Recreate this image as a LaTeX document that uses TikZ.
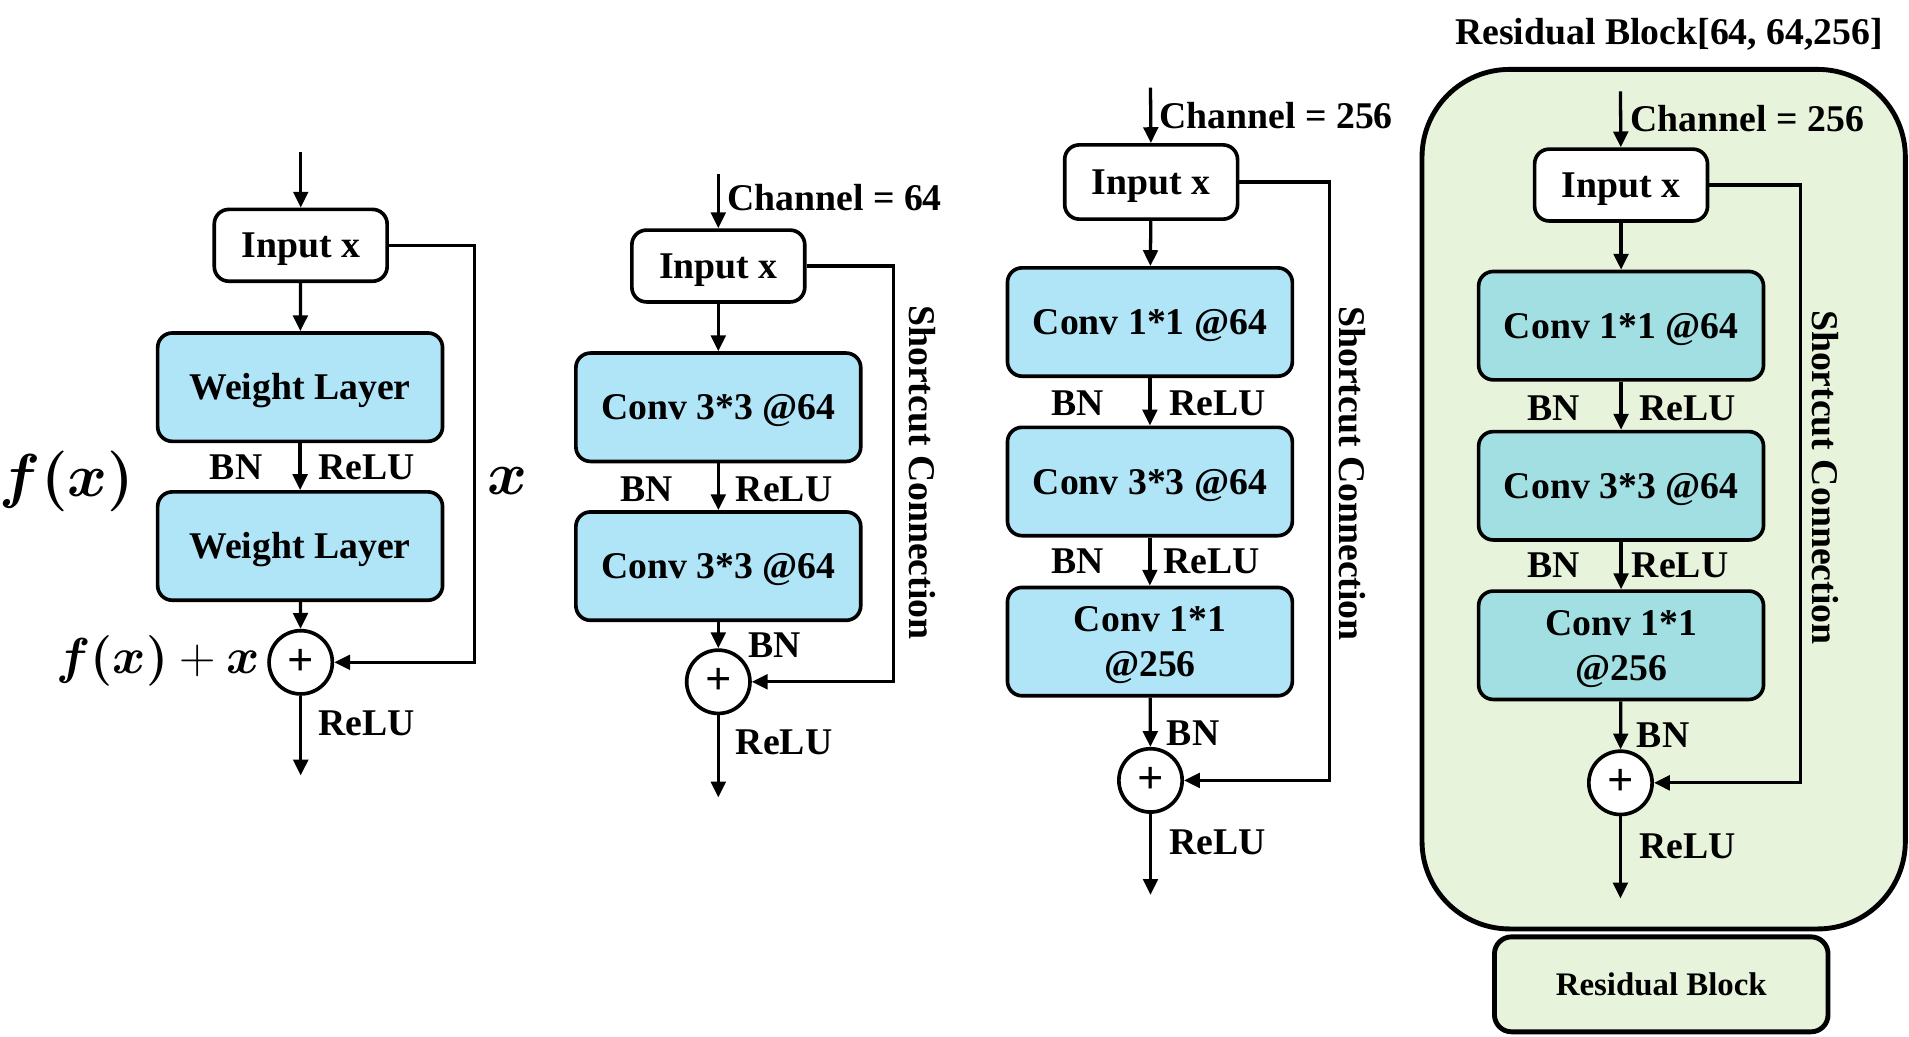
\documentclass[tikz,border=0pt]{standalone}
\usepackage{amsmath}
\usepackage{bm}
\usepackage{fontspec}
\setmainfont{Liberation Serif}
\usetikzlibrary{arrows.meta}
\definecolor{layerblue}{HTML}{B0E5F7}
\definecolor{layerteal}{HTML}{A2DFE2}
\definecolor{blockgreen}{HTML}{E7F4DB}
\begin{document}
\begin{tikzpicture}[x=0.5pt,y=-0.5pt,
  font=\fontsize{15.5}{18.5}\selectfont\bfseries,
  arr/.style={line width=1.35pt,-{Triangle[length=6.5pt,width=6pt]}},
  capc/.style={text height=10.4pt,text depth=0pt},
  inbox/.style={draw,line width=1.5pt,rounded corners=6pt,fill=white,capc,
    minimum width=71pt,minimum height=29.5pt,inner sep=0pt},
  layer/.style={draw,line width=1.5pt,rounded corners=6pt,fill=layerblue,
    minimum width=117pt,minimum height=44.5pt,inner sep=0pt,align=center},
  tlayer/.style={layer,fill=layerteal},
  twoline/.style={text depth=-2pt},
  sum/.style={draw,circle,line width=1.5pt,fill=white,minimum size=26pt,
    inner sep=0pt,font=\fontsize{19}{19}\selectfont\bfseries},
  lbl/.style={inner sep=0pt},
  side/.style={inner sep=0pt,rotate=-90}]
\useasboundingbox (0,0) rectangle (1568,851);

% ---------- basic residual unit ----------
\coordinate (top1) at (247,125);
\coordinate (out1) at (247,637);
\coordinate (r1) at (390,0);
\node[inbox] (in1) at (247,201.5) {Input x};
\node[layer,capc] (w1a) at (246.5,318) {Weight Layer};
\node[layer,capc] (w1b) at (246.5,448.5) {Weight Layer};
\node[sum] (s1) at (247,544) {+};
\draw[arr] (top1) -- (in1);
\draw[arr] (in1) -- (w1a);
\draw[arr] (w1a) -- (w1b);
\draw[arr] (w1b) -- (s1);
\draw[arr] (s1) -- (out1);
\draw[arr] (in1.east) -- (in1.east -| r1) -- (s1.east -| r1) -- (s1.east);
\node[lbl] (bn1) at (194,384) {BN};
\node[lbl] (re1) at (301,384) {ReLU};
\node[lbl] (re1b) at (301,594) {ReLU};
\node[lbl] (fx) at (55,395) {\fontsize{27.5}{30}\selectfont$\bm{f(x)}$};
\node[lbl] (xx) at (417,395) {\fontsize{27.5}{30}\selectfont$\bm{x}$};
\node[lbl] (fxx) at (130,543) {\fontsize{20}{24}\selectfont$\bm{f(x)}+\bm{x}$};

% ---------- two 3x3 convolutions ----------
\coordinate (top2) at (590,143);
\coordinate (out2) at (590,655);
\coordinate (r2) at (734,0);
\node[inbox] (in2) at (590,218.5) {Input x};
\node[layer,capc] (c2a) at (590,334.5) {Conv 3*3 @64};
\node[layer,capc] (c2b) at (590,465) {Conv 3*3 @64};
\node[sum] (s2) at (590,560) {+};
\draw[arr] (top2) -- (in2);
\draw[arr] (in2) -- (c2a);
\draw[arr] (c2a) -- (c2b);
\draw[arr] (c2b) -- (s2);
\draw[arr] (s2) -- (out2);
\draw[arr] (in2.east) -- (in2.east -| r2) -- (s2.east -| r2) -- (s2.east);
\node[lbl,anchor=west] (ch2) at (597,162) {Channel = 64};
\node[lbl] (bn2) at (531,402) {BN};
\node[lbl] (re2) at (644,402) {ReLU};
\node[lbl] (bn2b) at (636,530) {BN};
\node[lbl] (re2b) at (644,610) {ReLU};
\node[side] (sc2) at (758,388) {Shortcut Connection};

% ---------- bottleneck ----------
\coordinate (top3) at (945,72);
\coordinate (out3) at (945,735);
\coordinate (r3) at (1092,0);
\node[inbox,minimum height=30.5pt] (in3) at (945.5,149.5) {Input x};
\node[layer,capc] (c3a) at (944.5,264.5) {Conv 1*1 @64};
\node[layer,capc] (c3b) at (944.5,395.5) {Conv 3*3 @64};
\node[layer,twoline] (c3c) at (944.5,527) {Conv 1*1\\@256};
\node[sum] (s3) at (945,641) {+};
\draw[arr] (top3) -- (in3);
\draw[arr] (in3) -- (c3a);
\draw[arr] (c3a) -- (c3b);
\draw[arr] (c3b) -- (c3c);
\draw[arr] (c3c) -- (s3);
\draw[arr] (s3) -- (out3);
\draw[arr] (in3.east) -- (in3.east -| r3) -- (s3.east -| r3) -- (s3.east);
\node[lbl,anchor=west] (ch3) at (952,95) {Channel = 256};
\node[lbl] (bn3a) at (885,331) {BN};
\node[lbl] (re3a) at (1000,331) {ReLU};
\node[lbl] (bn3b) at (885,461) {BN};
\node[lbl] (re3b) at (995,461) {ReLU};
\node[lbl] (bn3c) at (980,602) {BN};
\node[lbl] (re3c) at (1000,692) {ReLU};
\node[side] (sc3) at (1111,389) {Shortcut Connection};

% ---------- residual block container ----------
\draw[line width=2pt,fill=blockgreen,rounded corners=36pt] (1168,57) rectangle (1565,763);
\node[lbl] (title4) at (1371,28) {Residual Block[64, 64,256]};
\coordinate (top4) at (1331,75);
\coordinate (out4) at (1331,738);
\coordinate (r4) at (1479,0);
\node[inbox] (in4) at (1331.5,152) {Input x};
\node[tlayer,capc] (c4a) at (1331.5,267.5) {Conv 1*1 @64};
\node[tlayer,capc] (c4b) at (1331.5,399) {Conv 3*3 @64};
\node[tlayer,twoline] (c4c) at (1331.5,530) {Conv 1*1\\@256};
\node[sum] (s4) at (1331,643) {+};
\draw[arr] (top4) -- (in4);
\draw[arr] (in4) -- (c4a);
\draw[arr] (c4a) -- (c4b);
\draw[arr] (c4b) -- (c4c);
\draw[arr] (c4c) -- (s4);
\draw[arr] (s4) -- (out4);
\draw[arr] (in4.east) -- (in4.east -| r4) -- (s4.east -| r4) -- (s4.east);
\node[lbl,anchor=west] (ch4) at (1339,97) {Channel = 256};
\node[lbl] (bn4a) at (1276,335) {BN};
\node[lbl] (re4a) at (1386,335) {ReLU};
\node[lbl] (bn4b) at (1276,464) {BN};
\node[lbl] (re4b) at (1380,464) {ReLU};
\node[lbl] (bn4c) at (1366,604) {BN};
\node[lbl] (re4c) at (1386,695) {ReLU};
\node[side] (sc4) at (1499,392) {Shortcut Connection};

% ---------- compact block ----------
\node[draw,line width=2pt,rounded corners=7pt,fill=blockgreen,
  text height=9pt,text depth=0pt,
  minimum width=137pt,minimum height=39pt,inner sep=0pt,
  font=\fontsize{13.5}{15}\selectfont\bfseries] (rb) at (1364.5,808.5) {Residual Block};
\end{tikzpicture}
\end{document}
